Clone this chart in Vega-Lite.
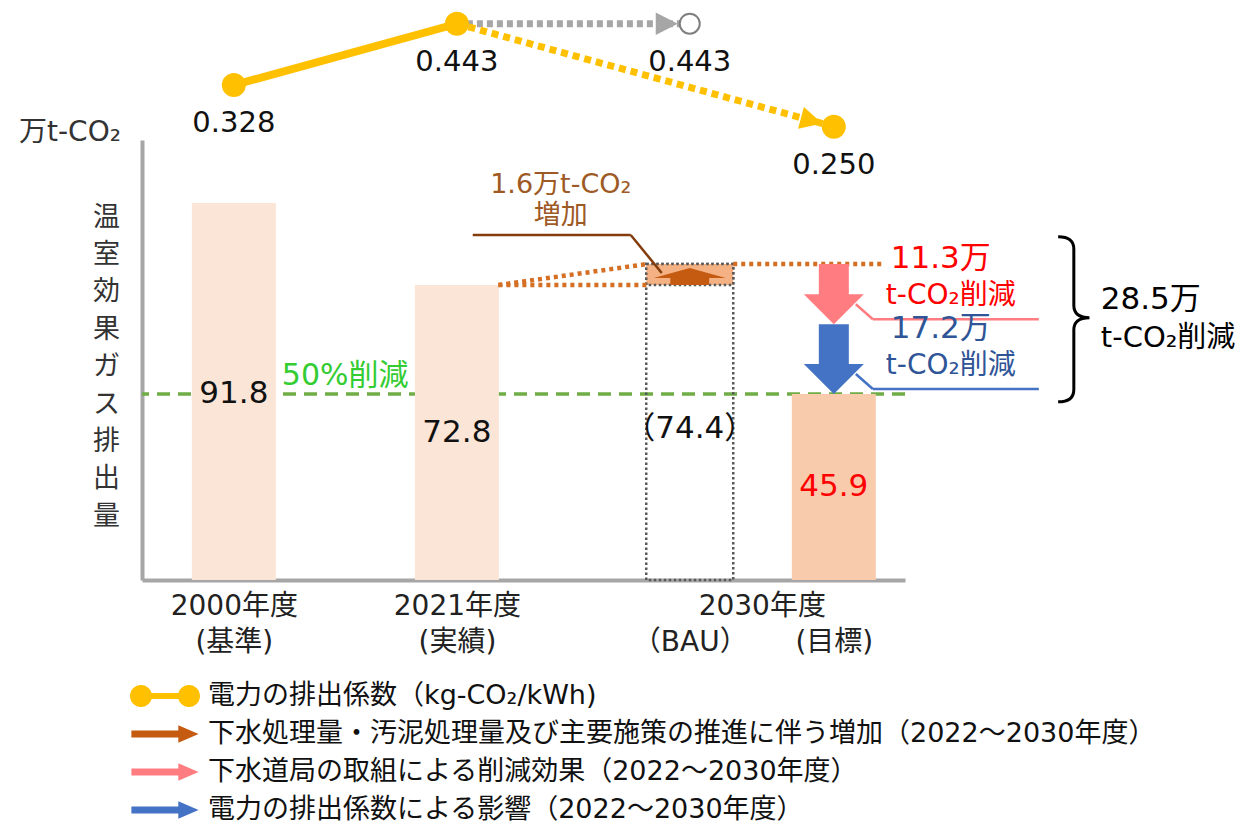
{
"$schema":"https://vega.github.io/schema/vega-lite/v6.json",
"width":763,"height":440,
"autosize":{"type":"none"},
"padding":{"left":142,"top":140,"right":352,"bottom":253},
"background":"#ffffff",
"config":{"view":{"stroke":null},"font":"DejaVu Sans, Noto Sans CJK JP"},
"datasets":{
 "bars":[{"year":"2000年度","note":"基準","pos":1,"value":91.8,"kind":"基準"},{"year":"2021年度","note":"実績","pos":2,"value":72.8,"kind":"実績"},{"year":"2030年度","note":"目標","pos":3.69,"value":45.9,"kind":"目標"}],
 "bau":[{"year":"2030年度","note":"BAU","pos":3.044,"value":74.4,"base":72.8,"increase":1.6,"label":"（74.4）","series":"下水処理量・汚泥処理量及び主要施策の推進に伴う増加（2022～2030年度）"}],
 "connectors":[{"from_pos":2.186,"to_pos":2.854,"from":72.8,"to":74.4},{"from_pos":2.186,"to_pos":2.854,"from":72.8,"to":72.8},{"from_pos":3.239,"to_pos":3.92,"from":74.4,"to":74.4}],
 "changes":[{"series":"下水道局の取組による削減効果（2022～2030年度）","kind":"effort","pos":3.69,"from":74.4,"to":63.1,"label":"11.3万"},{"series":"電力の排出係数による影響（2022～2030年度）","kind":"factor","pos":3.69,"from":63.1,"to":45.9,"label":"17.2万"}],
 "total":[{"pos":3.69,"from":74.4,"to":45.9,"label":"28.5万"}],
 "factor":[{"year":"2000年度","status":"実績","pos":1,"ef":0.328},{"year":"2021年度","status":"実績","pos":2,"ef":0.443},{"year":"2030年度","status":"BAU","pos":3.044,"ef":0.443},{"year":"2030年度","status":"目標","pos":3.69,"ef":0.25}],
 "series":[{"series":"電力の排出係数（kg-CO₂/kWh)"},{"series":"下水処理量・汚泥処理量及び主要施策の推進に伴う増加（2022～2030年度）"},{"series":"下水道局の取組による削減効果（2022～2030年度）"},{"series":"電力の排出係数による影響（2022～2030年度）"}]
},
"layer":[
  {"data":{"name":"bars"},"transform":[{"filter":"datum.kind == '目標'"}],
   "mark":{"type":"rule","color":"#70AD47","strokeWidth":3.5,"strokeDash":[13,8]},
   "encoding":{"y":{"field":"value","type":"quantitative","scale":{"type":"linear","domain":[0,72.8,74.4,91.8,110],"range":[440,145,124,63,0],"nice":false,"zero":false},"axis":null}}},
  {"data":{"name":"bars"},
   "mark":{"type":"bar","width":84},
   "encoding":{
    "x":{"field":"pos","type":"quantitative","scale":{"domain":[0.6106,3.9867],"nice":false,"zero":false},
      "axis":{"values":[1,2,3.044,3.367,3.69],"labelExpr":"datum.value == 1 ? ['2000年度', '(基準)'] : datum.value == 2 ? ['2021年度', '(実績)'] : datum.value == 3.044 ? ['', '（BAU）'] : datum.value == 3.69 ? ['', '(目標)'] : ['2030年度', '']","title":null,"ticks":false,"grid":false,"domain":true,"domainColor":"#A6A6A6","domainWidth":4,"labelFont":"DejaVu Sans, Noto Sans CJK JP","labelFontSize":28,"labelLineHeight":36,"labelPadding":12,"labelBaseline":"top","labelOverlap":false,"labelBound":false,"labelFlush":false,"labelColor":"#222222"}},
    "y":{"field":"value","type":"quantitative","scale":{"type":"linear","domain":[0,72.8,74.4,91.8,110],"range":[440,145,124,63,0],"nice":false,"zero":false},
      "axis":{"title":["温","室","効","果","ガ","ス","排","出","量"],"titleAngle":0,"titleAlign":"center","titleBaseline":"top","titleX":-36,"titleY":64,"titleLineHeight":37.4,"titleFontSize":27,"titleFont":"Noto Sans CJK JP","titleFontWeight":"normal","titleColor":"#333333","ticks":false,"labels":false,"grid":false,"domainColor":"#A6A6A6","domainWidth":4}},
    "color":{"condition":{"test":"datum.kind == '目標'","value":"#F8CBAD"},"value":"#FBE5D6"}}},
  {"data":{"name":"bars"},"transform":[{"filter":"datum.kind == '基準'"}],
   "mark":{"type":"text","text":"万t-CO₂","fontSize":28,"align":"left","baseline":"alphabetic","dx":-128,"dy":1,"color":"#333333"},
   "encoding":{"x":{"datum":0.6106,"type":"quantitative","scale":{"domain":[0.6106,3.9867],"nice":false,"zero":false}},
    "y":{"datum":110,"type":"quantitative","scale":{"type":"linear","domain":[0,72.8,74.4,91.8,110],"range":[440,145,124,63,0],"nice":false,"zero":false},"axis":null}}},
  {"data":{"name":"bau"},
   "mark":{"type":"bar","width":87,"fill":"transparent","stroke":"#595959","strokeWidth":2.5,"strokeDash":[2.5,2.5]},
   "encoding":{"x":{"field":"pos","type":"quantitative","scale":{"domain":[0.6106,3.9867],"nice":false,"zero":false}},
    "y":{"field":"value","type":"quantitative","scale":{"type":"linear","domain":[0,72.8,74.4,91.8,110],"range":[440,145,124,63,0],"nice":false,"zero":false},"axis":null}}},
  {"data":{"name":"bau"},
   "mark":{"type":"bar","width":87,"fill":"#F4B183","stroke":"#595959","strokeWidth":2.5,"strokeDash":[2.5,2.5]},
   "encoding":{"x":{"field":"pos","type":"quantitative","scale":{"domain":[0.6106,3.9867],"nice":false,"zero":false}},
    "y":{"field":"value","type":"quantitative","scale":{"type":"linear","domain":[0,72.8,74.4,91.8,110],"range":[440,145,124,63,0],"nice":false,"zero":false},"axis":null},
    "y2":{"field":"base"}}},
  {"data":{"name":"bau"},
   "mark":{"type":"point","shape":"M0,0.11 L1,0.39 L0.54,0.39 L0.54,0.58 L-0.54,0.58 L-0.54,0.39 L-1,0.39 Z","size":5184,"filled":true,"opacity":1,"strokeWidth":0,"color":"#C55A11"},
   "encoding":{"x":{"field":"pos","type":"quantitative","scale":{"domain":[0.6106,3.9867],"nice":false,"zero":false}},
    "y":{"field":"value","type":"quantitative","scale":{"type":"linear","domain":[0,72.8,74.4,91.8,110],"range":[440,145,124,63,0],"nice":false,"zero":false},"axis":null}}},
  {"data":{"name":"connectors"},
   "mark":{"type":"rule","color":"#D46F24","strokeWidth":4.5,"strokeDash":[4,4]},
   "encoding":{"x":{"field":"from_pos","type":"quantitative","scale":{"domain":[0.6106,3.9867],"nice":false,"zero":false}},"x2":{"field":"to_pos"},
    "y":{"field":"from","type":"quantitative","scale":{"type":"linear","domain":[0,72.8,74.4,91.8,110],"range":[440,145,124,63,0],"nice":false,"zero":false},"axis":null},"y2":{"field":"to"}}},
  {"data":{"name":"bau"},
   "mark":{"type":"rule","color":"#843C0C","strokeWidth":2.5,"xOffset":-217,"x2Offset":-59,"yOffset":-29,"y2Offset":-29},
   "encoding":{"x":{"field":"pos","type":"quantitative","scale":{"domain":[0.6106,3.9867],"nice":false,"zero":false}},"x2":{"field":"pos"},
    "y":{"field":"value","type":"quantitative","scale":{"type":"linear","domain":[0,72.8,74.4,91.8,110],"range":[440,145,124,63,0],"nice":false,"zero":false},"axis":null},"y2":{"field":"value"}}},
  {"data":{"name":"bau"},
   "mark":{"type":"rule","color":"#843C0C","strokeWidth":2.5,"xOffset":-59,"x2Offset":-28,"yOffset":-29,"y2Offset":9},
   "encoding":{"x":{"field":"pos","type":"quantitative","scale":{"domain":[0.6106,3.9867],"nice":false,"zero":false}},"x2":{"field":"pos"},
    "y":{"field":"value","type":"quantitative","scale":{"type":"linear","domain":[0,72.8,74.4,91.8,110],"range":[440,145,124,63,0],"nice":false,"zero":false},"axis":null},"y2":{"field":"value"}}},
  {"data":{"name":"bau"},
   "mark":{"type":"text","text":["1.6万t-CO₂","増加"],"lineHeight":31,"fontSize":27,"color":"#9E5A24","align":"center","baseline":"middle","dx":-129,"dy":-79},
   "encoding":{"x":{"field":"pos","type":"quantitative","scale":{"domain":[0.6106,3.9867],"nice":false,"zero":false}},
    "y":{"field":"value","type":"quantitative","scale":{"type":"linear","domain":[0,72.8,74.4,91.8,110],"range":[440,145,124,63,0],"nice":false,"zero":false},"axis":null}}},
  {"data":{"name":"changes"},
   "mark":{"type":"bar","width":30,"y2Offset":-28},
   "encoding":{"x":{"field":"pos","type":"quantitative","scale":{"domain":[0.6106,3.9867],"nice":false,"zero":false}},
    "y":{"field":"from","type":"quantitative","scale":{"type":"linear","domain":[0,72.8,74.4,91.8,110],"range":[440,145,124,63,0],"nice":false,"zero":false},"axis":null},"y2":{"field":"to"},
    "color":{"condition":{"test":"datum.kind == 'effort'","value":"#FF7C80"},"value":"#4472C4"}}},
  {"data":{"name":"changes"},
   "mark":{"type":"point","shape":"M-1,-1 L1,-1 L0,0 Z","size":3600,"filled":true,"opacity":1,"strokeWidth":0},
   "encoding":{"x":{"field":"pos","type":"quantitative","scale":{"domain":[0.6106,3.9867],"nice":false,"zero":false}},
    "y":{"field":"to","type":"quantitative","scale":{"type":"linear","domain":[0,72.8,74.4,91.8,110],"range":[440,145,124,63,0],"nice":false,"zero":false},"axis":null},
    "color":{"condition":{"test":"datum.kind == 'effort'","value":"#FF7C80"},"value":"#4472C4"}}},
  {"data":{"name":"changes"},
   "mark":{"type":"rule","strokeWidth":2.5,"xOffset":22,"x2Offset":39,"yOffset":-20,"y2Offset":-5},
   "encoding":{"x":{"field":"pos","type":"quantitative","scale":{"domain":[0.6106,3.9867],"nice":false,"zero":false}},"x2":{"field":"pos"},
    "y":{"field":"to","type":"quantitative","scale":{"type":"linear","domain":[0,72.8,74.4,91.8,110],"range":[440,145,124,63,0],"nice":false,"zero":false},"axis":null},"y2":{"field":"to"},
    "color":{"condition":{"test":"datum.kind == 'effort'","value":"#FF7C80"},"value":"#4472C4"}}},
  {"data":{"name":"changes"},
   "mark":{"type":"rule","strokeWidth":2.5,"xOffset":39,"x2Offset":205,"yOffset":-5,"y2Offset":-5},
   "encoding":{"x":{"field":"pos","type":"quantitative","scale":{"domain":[0.6106,3.9867],"nice":false,"zero":false}},"x2":{"field":"pos"},
    "y":{"field":"to","type":"quantitative","scale":{"type":"linear","domain":[0,72.8,74.4,91.8,110],"range":[440,145,124,63,0],"nice":false,"zero":false},"axis":null},"y2":{"field":"to"},
    "color":{"condition":{"test":"datum.kind == 'effort'","value":"#FF7C80"},"value":"#4472C4"}}},
  {"data":{"name":"changes"},
   "mark":{"type":"text","fontSize":31,"align":"left","baseline":"middle","dx":57,"dy":-65},
   "encoding":{"x":{"field":"pos","type":"quantitative","scale":{"domain":[0.6106,3.9867],"nice":false,"zero":false}},
    "y":{"field":"to","type":"quantitative","scale":{"type":"linear","domain":[0,72.8,74.4,91.8,110],"range":[440,145,124,63,0],"nice":false,"zero":false},"axis":null},
    "text":{"field":"label"},
    "color":{"condition":{"test":"datum.kind == 'effort'","value":"#FF0000"},"value":"#2F5597"}}},
  {"data":{"name":"changes"},
   "mark":{"type":"text","text":"t-CO₂削減","fontSize":28,"align":"left","baseline":"middle","dx":52,"dy":-28},
   "encoding":{"x":{"field":"pos","type":"quantitative","scale":{"domain":[0.6106,3.9867],"nice":false,"zero":false}},
    "y":{"field":"to","type":"quantitative","scale":{"type":"linear","domain":[0,72.8,74.4,91.8,110],"range":[440,145,124,63,0],"nice":false,"zero":false},"axis":null},
    "color":{"condition":{"test":"datum.kind == 'effort'","value":"#FF0000"},"value":"#2F5597"}}},
  {"data":{"name":"total"},
   "mark":{"type":"point","shape":"M-0.19,-0.33 Q0,-0.33 0,-0.18 L0,0.5 Q0,0.65 0.19,0.65 Q0,0.65 0,0.8 L0,1.52 Q0,1.67 -0.19,1.67","size":27225,"filled":false,"stroke":"#000000","strokeWidth":3,"opacity":1,"xOffset":240},
   "encoding":{"x":{"field":"pos","type":"quantitative","scale":{"domain":[0.6106,3.9867],"nice":false,"zero":false}},
    "y":{"field":"from","type":"quantitative","scale":{"type":"linear","domain":[0,72.8,74.4,91.8,110],"range":[440,145,124,63,0],"nice":false,"zero":false},"axis":null}}},
  {"data":{"name":"total"},
   "mark":{"type":"text","fontSize":31,"align":"left","baseline":"middle","dx":267,"dy":36,"color":"#000000"},
   "encoding":{"x":{"field":"pos","type":"quantitative","scale":{"domain":[0.6106,3.9867],"nice":false,"zero":false}},
    "y":{"field":"from","type":"quantitative","scale":{"type":"linear","domain":[0,72.8,74.4,91.8,110],"range":[440,145,124,63,0],"nice":false,"zero":false},"axis":null},
    "text":{"field":"label"}}},
  {"data":{"name":"total"},
   "mark":{"type":"text","text":"t-CO₂削減","fontSize":29,"align":"left","baseline":"middle","dx":267,"dy":74,"color":"#000000"},
   "encoding":{"x":{"field":"pos","type":"quantitative","scale":{"domain":[0.6106,3.9867],"nice":false,"zero":false}},
    "y":{"field":"from","type":"quantitative","scale":{"type":"linear","domain":[0,72.8,74.4,91.8,110],"range":[440,145,124,63,0],"nice":false,"zero":false},"axis":null}}},
  {"data":{"name":"bars"},"transform":[{"filter":"datum.kind == '目標'"}],
   "mark":{"type":"text","text":"50%削減","fontSize":30,"align":"left","baseline":"middle","dx":48,"dy":-18,"color":"#33CC33"},
   "encoding":{"x":{"datum":1,"type":"quantitative","scale":{"domain":[0.6106,3.9867],"nice":false,"zero":false}},
    "y":{"field":"value","type":"quantitative","scale":{"type":"linear","domain":[0,72.8,74.4,91.8,110],"range":[440,145,124,63,0],"nice":false,"zero":false},"axis":null}}},
  {"data":{"name":"bars"},
   "mark":{"type":"text","fontSize":31,"align":"center","baseline":"middle"},
   "encoding":{"x":{"field":"pos","type":"quantitative","scale":{"domain":[0.6106,3.9867],"nice":false,"zero":false}},
    "y":{"field":"value","type":"quantitative","scale":{"type":"linear","domain":[0,145.6,148.8,183.6,220],"range":[440,145,124,63,0],"nice":false,"zero":false},"axis":null},
    "text":{"field":"value","type":"quantitative","format":".1f"},
    "color":{"condition":{"test":"datum.kind == '目標'","value":"#FF0000"},"value":"#111111"}}},
  {"data":{"name":"bau"},
   "mark":{"type":"text","fontSize":31,"align":"center","baseline":"middle","color":"#111111"},
   "encoding":{"x":{"field":"pos","type":"quantitative","scale":{"domain":[0.6106,3.9867],"nice":false,"zero":false}},
    "y":{"field":"value","type":"quantitative","scale":{"type":"linear","domain":[0,145.6,148.8,183.6,220],"range":[440,145,124,63,0],"nice":false,"zero":false},"axis":null},
    "text":{"field":"label"}}},
  {"data":{"name":"factor"},"transform":[{"filter":"datum.pos == 2 || datum.status == 'BAU'"}],
   "mark":{"type":"line","color":"#A6A6A6","strokeWidth":7,"strokeDash":[6,4],"strokeCap":"butt"},
   "encoding":{"x":{"field":"pos","type":"quantitative","scale":{"domain":[0.6106,3.9867],"nice":false,"zero":false}},
    "y":{"field":"ef","type":"quantitative","scale":{"domain":[-0.6,0.225],"nice":false,"zero":false},"axis":null}}},
  {"data":{"name":"factor"},"transform":[{"filter":"datum.pos == 2 || datum.status == '目標'"}],
   "mark":{"type":"line","color":"#FFC000","strokeWidth":7,"strokeDash":[7,5],"strokeCap":"butt"},
   "encoding":{"x":{"field":"pos","type":"quantitative","scale":{"domain":[0.6106,3.9867],"nice":false,"zero":false}},
    "y":{"field":"ef","type":"quantitative","scale":{"domain":[-0.6,0.225],"nice":false,"zero":false},"axis":null}}},
  {"data":{"name":"factor"},"transform":[{"filter":"datum.status == '実績'"}],
   "mark":{"type":"line","color":"#FFC000","strokeWidth":8},
   "encoding":{"x":{"field":"pos","type":"quantitative","scale":{"domain":[0.6106,3.9867],"nice":false,"zero":false}},
    "y":{"field":"ef","type":"quantitative","scale":{"domain":[-0.6,0.225],"nice":false,"zero":false},"axis":null}}},
  {"data":{"name":"factor"},"transform":[{"filter":"datum.status == 'BAU'"}],
   "mark":{"type":"point","shape":"M-0.3,0 L-0.85,-0.28 L-0.85,0.28 Z","size":6400,"filled":true,"color":"#A6A6A6","opacity":1,"strokeWidth":0},
   "encoding":{"x":{"field":"pos","type":"quantitative","scale":{"domain":[0.6106,3.9867],"nice":false,"zero":false}},
    "y":{"field":"ef","type":"quantitative","scale":{"domain":[-0.6,0.225],"nice":false,"zero":false},"axis":null}}},
  {"data":{"name":"factor"},"transform":[{"filter":"datum.status == '目標'"}],
   "mark":{"type":"point","shape":"M-0.3,0 L-0.85,-0.28 L-0.85,0.28 Z","size":6400,"angle":15,"filled":true,"color":"#FFC000","opacity":1,"strokeWidth":0},
   "encoding":{"x":{"field":"pos","type":"quantitative","scale":{"domain":[0.6106,3.9867],"nice":false,"zero":false}},
    "y":{"field":"ef","type":"quantitative","scale":{"domain":[-0.6,0.225],"nice":false,"zero":false},"axis":null}}},
  {"data":{"name":"factor"},"transform":[{"filter":"datum.status != 'BAU'"}],
   "mark":{"type":"point","shape":"circle","size":576,"filled":true,"color":"#FFC000","opacity":1,"strokeWidth":0},
   "encoding":{"x":{"field":"pos","type":"quantitative","scale":{"domain":[0.6106,3.9867],"nice":false,"zero":false}},
    "y":{"field":"ef","type":"quantitative","scale":{"domain":[-0.6,0.225],"nice":false,"zero":false},"axis":null}}},
  {"data":{"name":"factor"},"transform":[{"filter":"datum.status == 'BAU'"}],
   "mark":{"type":"point","shape":"circle","size":400,"filled":true,"fill":"#FFFFFF","stroke":"#7F7F7F","strokeWidth":2,"opacity":1},
   "encoding":{"x":{"field":"pos","type":"quantitative","scale":{"domain":[0.6106,3.9867],"nice":false,"zero":false}},
    "y":{"field":"ef","type":"quantitative","scale":{"domain":[-0.6,0.225],"nice":false,"zero":false},"axis":null}}},
  {"data":{"name":"factor"},
   "mark":{"type":"text","fontSize":29,"align":"center","baseline":"middle","dy":38,"color":"#111111"},
   "encoding":{"x":{"field":"pos","type":"quantitative","scale":{"domain":[0.6106,3.9867],"nice":false,"zero":false}},
    "y":{"field":"ef","type":"quantitative","scale":{"domain":[-0.6,0.225],"nice":false,"zero":false},"axis":null},
    "text":{"field":"ef","type":"quantitative","format":".3f"}}},
  {"data":{"name":"series"},
   "mark":{"type":"point","filled":true,"opacity":0},
   "encoding":{
    "color":{"field":"series","type":"nominal","scale":{"domain":["電力の排出係数（kg-CO₂/kWh)","下水処理量・汚泥処理量及び主要施策の推進に伴う増加（2022～2030年度）","下水道局の取組による削減効果（2022～2030年度）","電力の排出係数による影響（2022～2030年度）"],"range":["#FFC000","#C55A11","#FF7C80","#4472C4"]},
     "legend":{"orient":"none","legendX":8,"legendY":541,"title":null,"symbolSize":900,"symbolStrokeWidth":0,"symbolOpacity":1,"labelFont":"DejaVu Sans, Noto Sans CJK JP","labelFontSize":27,"labelColor":"#111111","labelLimit":0,"labelOffset":28,"rowPadding":10,"padding":0,"direction":"vertical"}},
    "shape":{"field":"series","type":"nominal","scale":{"domain":["電力の排出係数（kg-CO₂/kWh)","下水処理量・汚泥処理量及び主要施策の推進に伴う増加（2022～2030年度）","下水道局の取組による削減効果（2022～2030年度）","電力の排出係数による影響（2022～2030年度）"],"range":["M-2.333,0 A0.733,0.733 0 1,1 -0.867,0 A0.733,0.733 0 1,1 -2.333,0 Z M0.867,0 A0.733,0.733 0 1,1 2.333,0 A0.733,0.733 0 1,1 0.867,0 Z M-1.63,-0.2 L1.63,-0.2 L1.63,0.2 L-1.63,0.2 Z","M-2.24,-0.233 L0.887,-0.233 L0.887,-0.583 L2.24,0 L0.887,0.583 L0.887,0.233 L-2.24,0.233 Z","M-2.24,-0.233 L0.887,-0.233 L0.887,-0.583 L2.24,0 L0.887,0.583 L0.887,0.233 L-2.24,0.233 Z","M-2.24,-0.233 L0.887,-0.233 L0.887,-0.583 L2.24,0 L0.887,0.583 L0.887,0.233 L-2.24,0.233 Z"]},
     "legend":{"orient":"none","legendX":8,"legendY":541,"title":null,"symbolSize":900,"symbolStrokeWidth":0,"symbolOpacity":1,"labelFont":"DejaVu Sans, Noto Sans CJK JP","labelFontSize":27,"labelColor":"#111111","labelLimit":0,"labelOffset":28,"rowPadding":10,"padding":0,"direction":"vertical"}}}}
],
"resolve":{"scale":{"y":"independent"}}
}
